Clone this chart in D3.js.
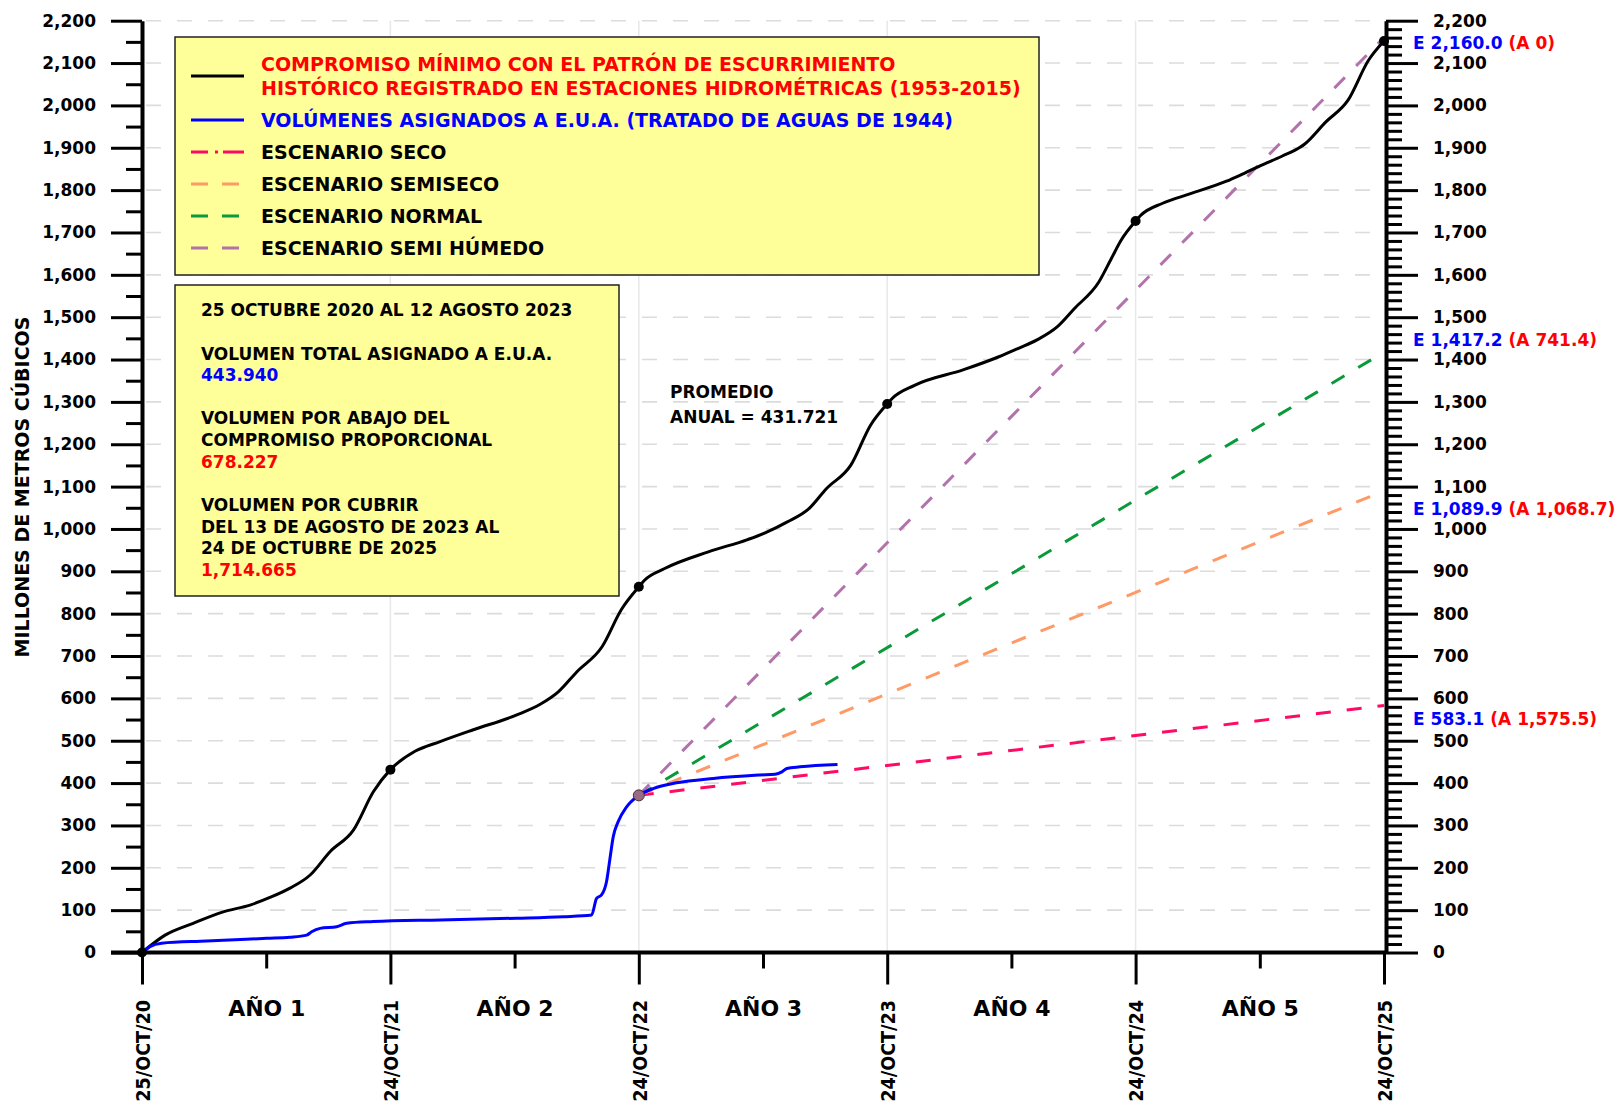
<!DOCTYPE html>
<html><head><meta charset="utf-8">
<script src="https://cdn.jsdelivr.net/npm/d3@7"></script>
<style>
body{margin:0;background:#fff}
svg{display:block}
text{font-family:"DejaVu Sans",sans-serif;font-weight:bold}
</style>
</head><body>
<svg id="c" width="1621" height="1105"></svg>
<script>
// ---------------- DATA ----------------
const yearTicks = [0, 1, 2, 3, 4, 5];
const dateLabels = ["25/OCT/20", "24/OCT/21", "24/OCT/22", "24/OCT/23", "24/OCT/24", "24/OCT/25"];
const midYearTicks = [0.5, 1.5, 2.5, 3.5, 4.5];
const yearLabels = ["AÑO 1", "AÑO 2", "AÑO 3", "AÑO 4", "AÑO 5"];

// Compromiso mínimo (black), x in years since 25/OCT/20
const compromisoT = [0, 0.093, 0.206, 0.327, 0.435, 0.515, 0.596, 0.677, 0.757, 0.851, 0.932, 1,
  1.099, 1.2, 1.334, 1.509, 1.603, 1.677, 1.751, 1.852, 1.93, 2,
  2.023, 2.102, 2.28, 2.438, 2.517, 2.596, 2.685, 2.755, 2.853, 2.933, 3,
  3.02, 3.11, 3.308, 3.447, 3.526, 3.605, 3.684, 3.753, 3.852, 3.902, 3.941, 4,
  4.02, 4.109, 4.218, 4.366, 4.42, 4.503, 4.589, 4.662, 4.681, 4.764, 4.856, 4.937, 5];
const compromisoV = [0, 41, 69, 96, 112, 130, 152, 183, 238, 289, 380, 431.721,
  475, 498, 526, 561, 586, 616, 663, 722, 810, 863.442,
  879, 906, 946, 975, 993, 1016, 1048, 1095, 1150, 1245, 1295.163,
  1308, 1339, 1376, 1406, 1426, 1447, 1477, 1520, 1583, 1638, 1681, 1726.884,
  1740, 1769, 1791, 1821, 1835, 1858, 1880, 1901, 1909, 1960, 2013, 2106, 2152];
const markerT = [0, 1, 2, 3, 4, 5];
const markerV = [0, 431.721, 863.442, 1295.163, 1726.884, 2152];

// Volúmenes asignados a E.U.A. (blue)
const asignadoT = [0, 0.032, 0.079, 0.26, 0.502, 0.596, 0.663, 0.683, 0.717, 0.784, 0.824, 0.931,
  1.2, 1.508, 1.696, 1.81, 1.83, 1.85, 1.87, 1.883, 1.897, 1.917, 1.951, 2.0,
  2.058, 2.152, 2.3, 2.488, 2.549, 2.576, 2.596, 2.649, 2.8];
const asignadoV = [0, 14, 22, 27, 33.5, 36, 41, 49, 57, 61, 69, 73,
  77, 81, 84.5, 88.5, 128, 136, 167, 218, 273, 309, 344, 371,
  387, 400.6, 411, 419, 421, 426.6, 434.6, 438.4, 443.94];

// Scenarios
const scenarioNames = ["ESCENARIO SECO", "ESCENARIO SEMISECO", "ESCENARIO NORMAL", "ESCENARIO SEMI HÚMEDO"];
const scenarioStartT = 2;
const scenarioStartV = 371;
const scenarioEndT = 5;
const scenarioEndV = [583.1, 1089.9, 1417.2, 2160.0];
const scenarioFaltante = [1575.5, 1068.7, 741.4, 0];

const legendLabels = [
  ["COMPROMISO MÍNIMO CON EL PATRÓN DE ESCURRIMIENTO",
   "HISTÓRICO REGISTRADO EN ESTACIONES HIDROMÉTRICAS (1953-2015)"],
  ["VOLÚMENES ASIGNADOS A E.U.A. (TRATADO DE AGUAS DE 1944)"]
];
const infoPeriod = "25 OCTUBRE 2020 AL 12 AGOSTO 2023";
const infoTotal = 443.940;
const infoAbajo = 678.227;
const infoCubrir = 1714.665;
const promedioAnual = 431.721;
const yTitle = "MILLONES DE METROS CÚBICOS";

// ---------------- STYLE / LAYOUT ----------------
const scenarioColors = ["#ff0a64", "#ff9966", "#0a9a3a", "#b273ac"];
const endLabelDy = [19.5, 24, -6.3, 11.3]; // px offset of E/A labels from line end

const svg = d3.select("#c");
const x = d3.scaleLinear().domain([0, 5]).range([142, 1384]);
const y = d3.scaleLinear().domain([0, 2200]).range([952.5, 20.7]);

// grid
const grid = svg.append("g");
grid.selectAll("line.h").data(d3.range(100, 2201, 100)).join("line")
  .attr("x1", x(0) + 4).attr("x2", x(5) - 2)
  .attr("y1", d => y(d)).attr("y2", d => y(d))
  .attr("stroke", "#dcdcdc").attr("stroke-width", 1.6)
  .attr("stroke-dasharray", "15,16");
grid.selectAll("line.v").data([1, 2, 3, 4]).join("line")
  .attr("x1", d => x(d)).attr("x2", d => x(d))
  .attr("y1", y(2200)).attr("y2", y(0))
  .attr("stroke", "#e8e8e8").attr("stroke-width", 1.5);

// axes
function styleAxis(g, w) {
  g.selectAll("line").attr("stroke", "#000").attr("stroke-width", w);
  g.select(".domain").attr("stroke", "#000").attr("stroke-width", 4);
  g.selectAll("text").attr("fill", "#000").style("font-family", '"DejaVu Sans",sans-serif').style("font-weight", "bold");
}
const fmtInt = d3.format(",");
// left
const gLminor = svg.append("g").attr("transform", `translate(${x(0)},0)`)
  .call(d3.axisLeft(y).tickValues(d3.range(50, 2200, 100)).tickSize(16).tickFormat(""));
gLminor.select(".domain").remove(); styleAxis(gLminor, 3);
const gL = svg.append("g").attr("transform", `translate(${x(0)},0)`)
  .call(d3.axisLeft(y).tickValues(d3.range(0, 2201, 100)).tickSize(31).tickSizeOuter(0).tickPadding(15).tickFormat(fmtInt));
styleAxis(gL, 3); gL.selectAll("text").attr("font-size", 17);
// right
const gRminor = svg.append("g").attr("transform", `translate(${x(5) + 2},0)`)
  .call(d3.axisRight(y).tickValues(d3.range(0, 2201, 20).filter(v => v % 100 !== 0)).tickSize(16).tickFormat(""));
gRminor.select(".domain").remove(); styleAxis(gRminor, 3);
const gR = svg.append("g").attr("transform", `translate(${x(5) + 2},0)`)
  .call(d3.axisRight(y).tickValues(d3.range(0, 2201, 100)).tickSize(32).tickSizeOuter(0).tickPadding(15).tickFormat(fmtInt));
styleAxis(gR, 3); gR.selectAll("text").attr("font-size", 17);
// bottom
const gBminor = svg.append("g").attr("transform", `translate(0,${y(0)})`)
  .call(d3.axisBottom(x).tickValues(midYearTicks).tickSize(16).tickFormat((d, i) => yearLabels[i]));
gBminor.select(".domain").remove(); styleAxis(gBminor, 3);
gBminor.selectAll("text").attr("font-size", 22).attr("y", 63).attr("dy", 0);
const gB = svg.append("g").attr("transform", `translate(0,${y(0)})`)
  .call(d3.axisBottom(x).tickValues(yearTicks).tickSize(32).tickSizeOuter(0).tickFormat((d, i) => dateLabels[i]));
styleAxis(gB, 3);
gB.select(".domain").attr("d", `M${x(0) - 31},0H${x(5) + 2}`);
const dateSqueeze = 0.88;
gB.selectAll("text").attr("font-size", 20).attr("transform", `rotate(-90) scale(${dateSqueeze},1)`)
  .attr("text-anchor", "end").attr("x", -47.5 / dateSqueeze).attr("y", 0).attr("dy", "0.36em");

// y title
svg.append("text").attr("transform", `translate(29,487) rotate(-90)`)
  .attr("text-anchor", "middle").attr("font-size", 19).text(yTitle);

// scenario lines
svg.append("g").selectAll("line").data(scenarioEndV).join("line")
  .attr("x1", x(scenarioStartT)).attr("y1", y(scenarioStartV))
  .attr("x2", x(scenarioEndT)).attr("y2", d => y(d))
  .attr("stroke", (d, i) => scenarioColors[i]).attr("stroke-width", 3)
  .attr("stroke-dasharray", "15,16");

// curves
const black = compromisoT.map((t, i) => [t, compromisoV[i]]);
const blue = asignadoT.map((t, i) => [t, asignadoV[i]]);
const line = d3.line().x(d => x(d[0])).y(d => y(d[1])).curve(d3.curveMonotoneX);
svg.append("path").attr("d", line(black))
  .attr("fill", "none").attr("stroke", "#000").attr("stroke-width", 3).attr("stroke-linejoin", "round");
svg.append("path").attr("d", line(blue))
  .attr("fill", "none").attr("stroke", "#0000ff").attr("stroke-width", 3).attr("stroke-linejoin", "round");

// markers
svg.append("g").selectAll("circle").data(markerT).join("circle")
  .attr("cx", d => x(d)).attr("cy", (d, i) => y(markerV[i])).attr("r", 5)
  .attr("fill", "#000");
svg.append("circle").attr("cx", x(scenarioStartT)).attr("cy", y(scenarioStartV)).attr("r", 5.5)
  .attr("fill", "#9a6a82").attr("stroke", "#4a2c3c").attr("stroke-width", 1);

// end labels
const fmt1 = d3.format(",.1f");
const endG = svg.append("g");
scenarioEndV.forEach((v, i) => {
  const t = endG.append("text").attr("transform", `translate(1413,${y(v) + endLabelDy[i]}) scale(0.92,1)`).attr("font-size", 18.5);
  t.append("tspan").attr("fill", "#0000ff").text("E " + fmt1(v));
  t.append("tspan").attr("fill", "#ff0000").text(" (A " + (scenarioFaltante[i] === 0 ? "0" : fmt1(scenarioFaltante[i])) + ")");
});

// promedio
const pt = svg.append("text").attr("font-size", 17).attr("fill", "#000");
pt.append("tspan").attr("x", 670).attr("y", 398).text("PROMEDIO");
pt.append("tspan").attr("x", 670).attr("y", 423).text("ANUAL = " + d3.format(".3f")(promedioAnual));

// legend box
const lg = svg.append("g");
lg.append("rect").attr("x", 175).attr("y", 37).attr("width", 864).attr("height", 238)
  .attr("fill", "#ffff99").attr("stroke", "#222").attr("stroke-width", 1.5);
const sw = [191, 244];
lg.append("line").attr("x1", sw[0]).attr("x2", sw[1]).attr("y1", 76).attr("y2", 76).attr("stroke", "#000").attr("stroke-width", 3);
lg.append("line").attr("x1", sw[0]).attr("x2", sw[1]).attr("y1", 120).attr("y2", 120).attr("stroke", "#0000ff").attr("stroke-width", 3);
const scenY = [152, 184, 216, 248];
const scenDash = ["17,7,3,5,21", "17,14,17", "17,14,17", "17,14,17"];
scenarioNames.forEach((n, i) => {
  lg.append("line").attr("x1", sw[0]).attr("x2", sw[1] - (i ? 5 : 0)).attr("y1", scenY[i]).attr("y2", scenY[i])
    .attr("stroke", scenarioColors[i]).attr("stroke-width", 3).attr("stroke-dasharray", scenDash[i]);
  lg.append("text").attr("x", 261).attr("y", scenY[i] + 6.5).attr("font-size", 19).attr("fill", "#000").text(n);
});
lg.append("text").attr("x", 261).attr("y", 70.7).attr("font-size", 19).attr("fill", "#ff0000").text(legendLabels[0][0]);
lg.append("text").attr("x", 261).attr("y", 95).attr("font-size", 19).attr("fill", "#ff0000").text(legendLabels[0][1]);
lg.append("text").attr("x", 261).attr("y", 126.7).attr("font-size", 19).attr("fill", "#0000ff").text(legendLabels[1][0]);

// info box
const ib = svg.append("g");
ib.append("rect").attr("x", 175).attr("y", 285).attr("width", 444).attr("height", 311)
  .attr("fill", "#ffff99").attr("stroke", "#222").attr("stroke-width", 1.5);
const fmt3 = d3.format(",.3f");
const infoLines = [
  [infoPeriod, "#000", 316],
  ["VOLUMEN TOTAL ASIGNADO A E.U.A.", "#000", 360],
  [fmt3(infoTotal), "#0000ff", 381],
  ["VOLUMEN POR ABAJO DEL", "#000", 424],
  ["COMPROMISO PROPORCIONAL", "#000", 446],
  [fmt3(infoAbajo), "#ff0000", 467.7],
  ["VOLUMEN POR CUBRIR", "#000", 511],
  ["DEL 13 DE AGOSTO DE 2023 AL", "#000", 532.7],
  ["24 DE OCTUBRE DE 2025", "#000", 554.3],
  [fmt3(infoCubrir), "#ff0000", 576]
];
ib.selectAll("text").data(infoLines).join("text")
  .attr("x", 201).attr("y", d => d[2]).attr("font-size", 17).attr("fill", d => d[1]).text(d => d[0]);
</script>
</body></html>
